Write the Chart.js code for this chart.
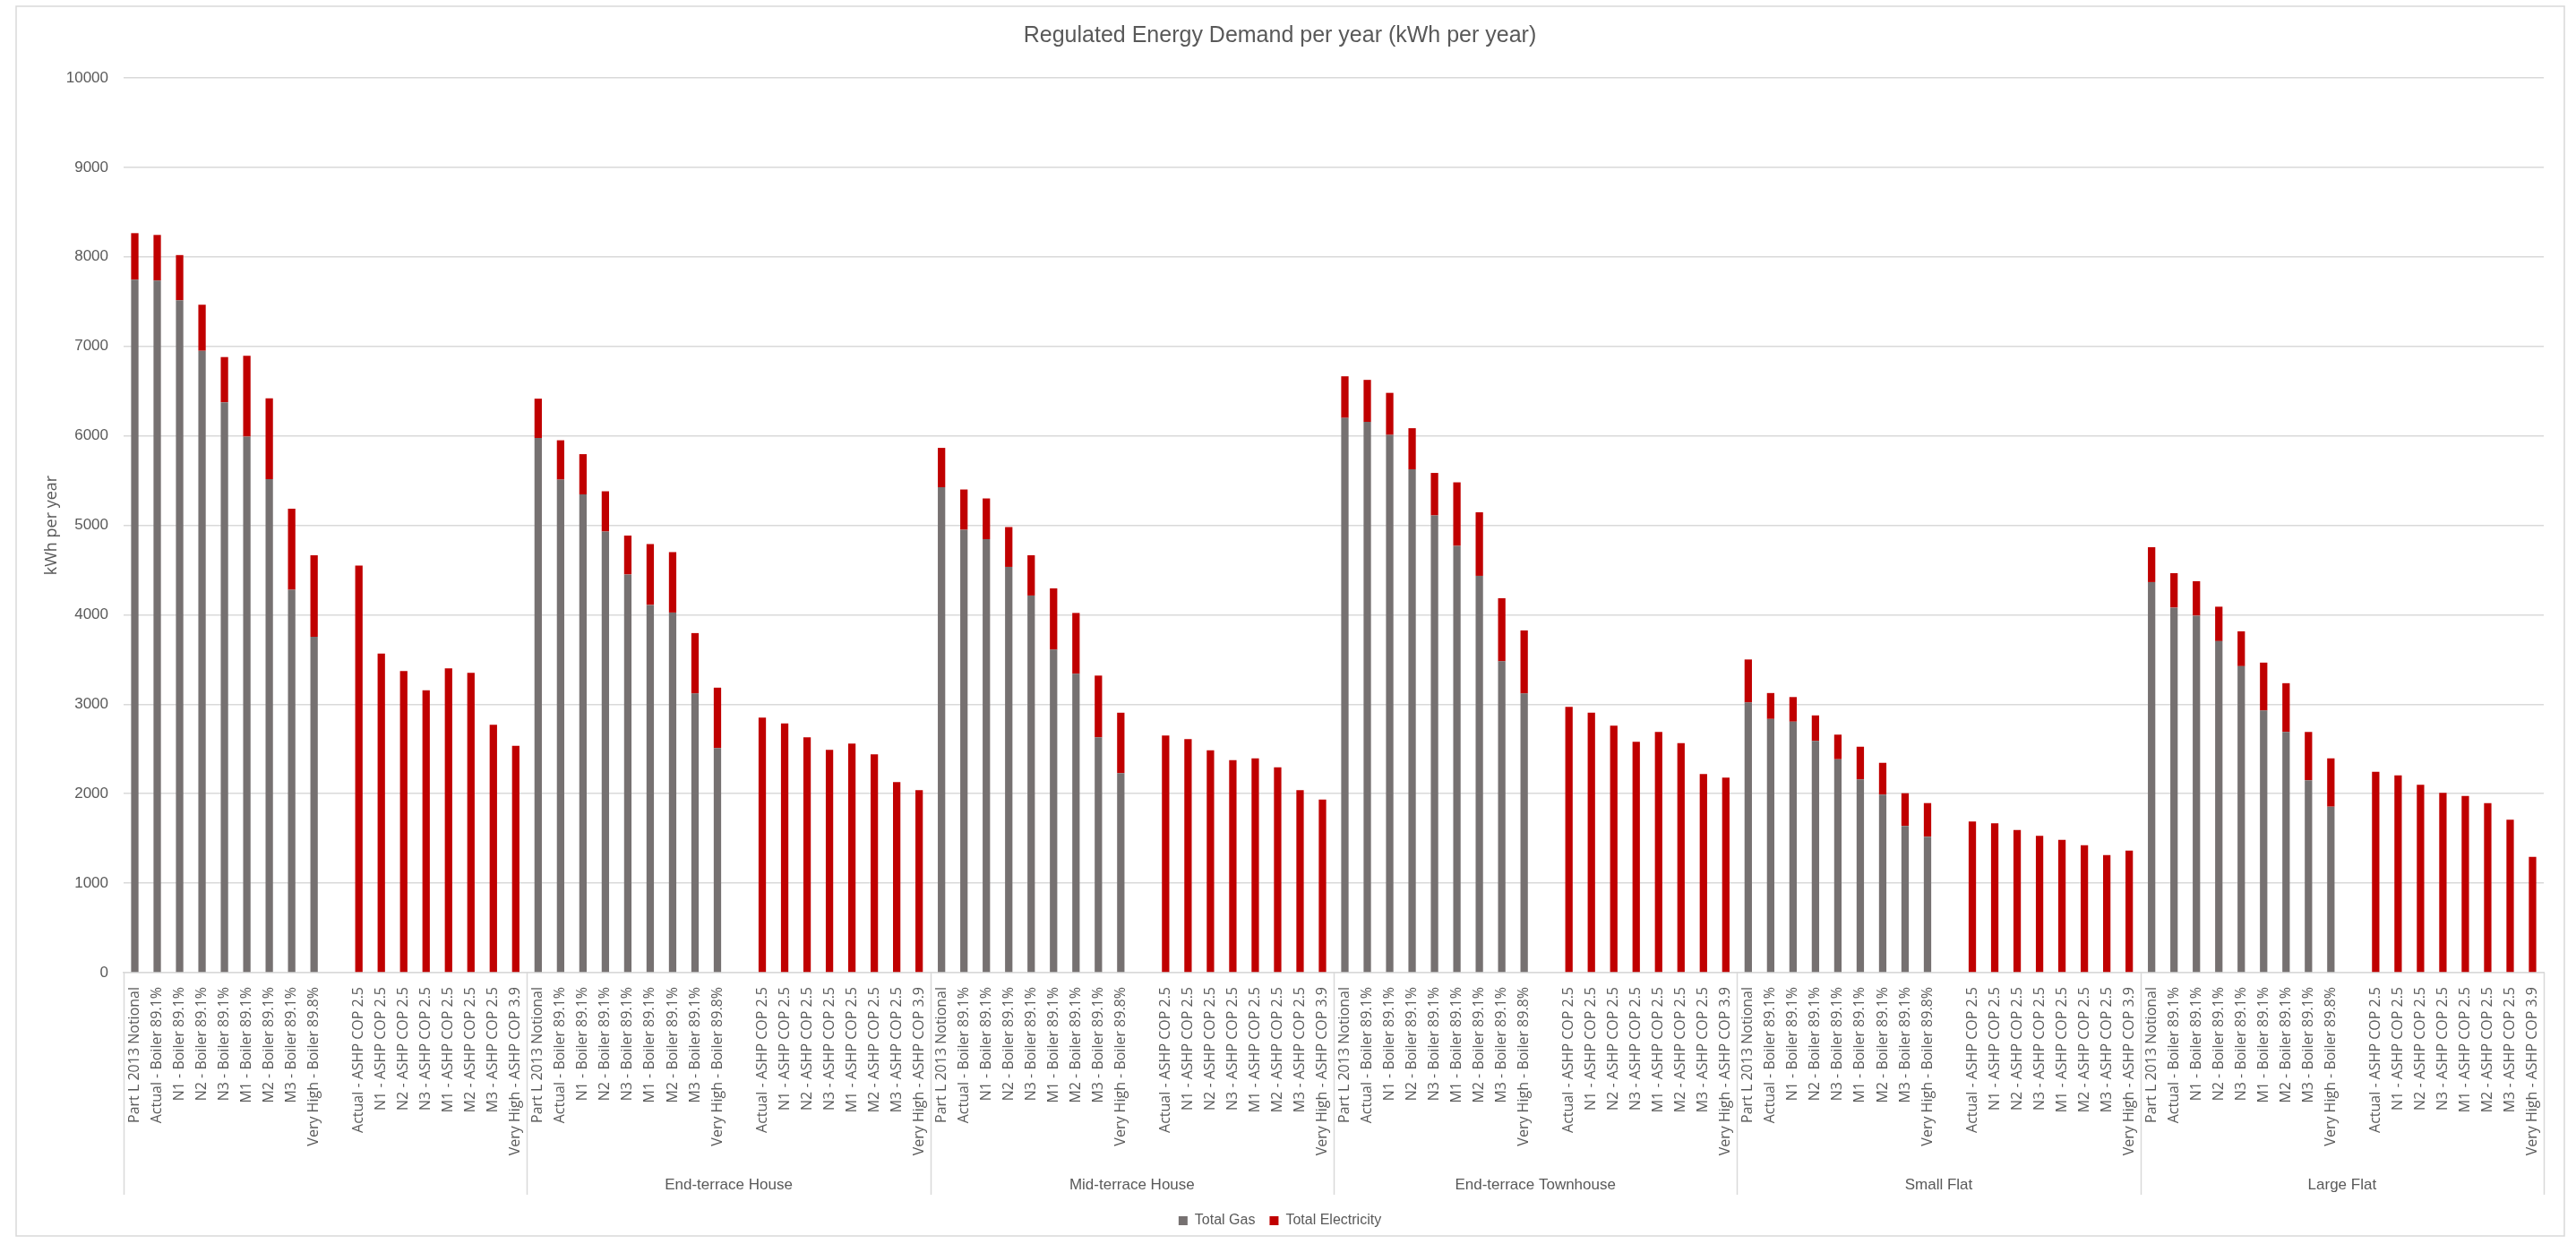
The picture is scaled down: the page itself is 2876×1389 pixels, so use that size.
<!DOCTYPE html>
<html>
<head>
<meta charset="utf-8">
<script src="https://cdn.jsdelivr.net/npm/chart.js@4/dist/chart.umd.min.js"></script>
<style>
  html, body { margin: 0; padding: 0; background: #ffffff; }
  canvas { display: block; }
</style>
</head>
<body>
<canvas id="c" width="2876" height="1389"></canvas>
<script>
// ---- Data ----
const groupNames = ['', 'End-terrace House', 'Mid-terrace House', 'End-terrace Townhouse', 'Small Flat', 'Large Flat'];

const scenarios = [
  'Part L 2013 Notional', 'Actual - Boiler 89.1%', 'N1 - Boiler 89.1%', 'N2 - Boiler 89.1%',
  'N3 - Boiler 89.1%', 'M1 - Boiler 89.1%', 'M2 - Boiler 89.1%', 'M3 - Boiler 89.1%',
  'Very High - Boiler 89.8%', '',
  'Actual - ASHP COP 2.5', 'N1 - ASHP COP 2.5', 'N2 - ASHP COP 2.5', 'N3 - ASHP COP 2.5',
  'M1 - ASHP COP 2.5', 'M2 - ASHP COP 2.5', 'M3 - ASHP COP 2.5', 'Very High - ASHP COP 3.9'
];

// Total Gas (kWh per year) per group; ASHP scenarios have no gas
const gasGroup1 = [7745, 7735, 7515, 6950, 6375, 5990, 5515, 4280, 3755, null, null, null, null, null, null, null, null, null];
const gasGroup2 = [5975, 5510, 5345, 4930, 4450, 4110, 4025, 3120, 2510, null, null, null, null, null, null, null, null, null];
const gasGroup3 = [5425, 4950, 4845, 4535, 4215, 3610, 3340, 2630, 2230, null, null, null, null, null, null, null, null, null];
const gasGroup4 = [6200, 6155, 6010, 5625, 5110, 4770, 4435, 3480, 3120, null, null, null, null, null, null, null, null, null];
const gasGroup5 = [3020, 2835, 2805, 2590, 2385, 2160, 1990, 1640, 1520, null, null, null, null, null, null, null, null, null];
const gasGroup6 = [4365, 4080, 3990, 3705, 3425, 2930, 2690, 2150, 1855, null, null, null, null, null, null, null, null, null];

// Total Electricity (kWh per year) per group
const elecGroup1 = [520, 510, 505, 515, 505, 905, 905, 905, 910, null, 4550, 3565, 3370, 3155, 3400, 3350, 2770, 2535];
const elecGroup2 = [440, 440, 450, 450, 435, 680, 675, 675, 675, null, 2850, 2785, 2630, 2490, 2560, 2440, 2130, 2040];
const elecGroup3 = [440, 450, 455, 445, 450, 685, 680, 690, 675, null, 2650, 2610, 2485, 2375, 2395, 2295, 2040, 1935];
const elecGroup4 = [465, 470, 470, 460, 475, 710, 710, 705, 705, null, 2970, 2905, 2760, 2580, 2690, 2565, 2220, 2180];
const elecGroup5 = [480, 290, 275, 285, 275, 365, 355, 365, 375, null, 1690, 1670, 1595, 1530, 1485, 1425, 1315, 1365];
const elecGroup6 = [390, 385, 385, 385, 390, 535, 545, 540, 540, null, 2245, 2205, 2100, 2010, 1975, 1895, 1710, 1295];

const yTicks = [0, 1000, 2000, 3000, 4000, 5000, 6000, 7000, 8000, 9000, 10000];

// ---- Build flat arrays for Chart.js ----
const gasAll = [gasGroup1, gasGroup2, gasGroup3, gasGroup4, gasGroup5, gasGroup6].flat();
const elecAll = [elecGroup1, elecGroup2, elecGroup3, elecGroup4, elecGroup5, elecGroup6].flat();
const labels = groupNames.map(() => scenarios).flat();
const perGroup = scenarios.length;

const TEXT = '#595959';
const GRID = '#d9d9d9';

const groupPlugin = {
  id: 'groupAxis',
  beforeDraw(chart) {
    const ctx = chart.ctx;
    ctx.save();
    ctx.fillStyle = '#ffffff';
    ctx.fillRect(0, 0, chart.width, chart.height);
    ctx.restore();
  },
  afterDraw(chart) {
    const ctx = chart.ctx;
    const x = chart.scales.x;
    const bottom = chart.chartArea.bottom;
    const step = x.getPixelForValue(1) - x.getPixelForValue(0);
    ctx.save();
    ctx.strokeStyle = GRID;
    ctx.lineWidth = 1.5;
    for (let k = 0; k <= groupNames.length; k++) {
      const bx = Math.round(x.getPixelForValue(k * perGroup) - step / 2) + 0.5;
      ctx.beginPath();
      ctx.moveTo(bx, bottom);
      ctx.lineTo(bx, bottom + 248);
      ctx.stroke();
    }
    ctx.fillStyle = TEXT;
    ctx.font = '17px "Liberation Sans", Arial, sans-serif';
    ctx.textAlign = 'center';
    ctx.textBaseline = 'middle';
    groupNames.forEach((g, k) => {
      const cx = (x.getPixelForValue(k * perGroup) + x.getPixelForValue(k * perGroup + perGroup - 1)) / 2;
      ctx.fillText(g, cx, bottom + 237);
    });
    // outer chart border
    ctx.strokeStyle = GRID;
    ctx.lineWidth = 1.5;
    ctx.strokeRect(18, 7, 2845, 1373);
    ctx.restore();
  }
};

new Chart(document.getElementById('c'), {
  type: 'bar',
  data: {
    labels: labels,
    datasets: [
      { label: 'Total Gas', data: gasAll, backgroundColor: '#767171', borderWidth: 0,
        barPercentage: 0.33, categoryPercentage: 1.0 },
      { label: 'Total Electricity', data: elecAll, backgroundColor: '#c00000', borderWidth: 0,
        barPercentage: 0.33, categoryPercentage: 1.0 }
    ]
  },
  options: {
    responsive: false,
    animation: false,
    devicePixelRatio: 1,
    layout: { padding: { left: 18, right: 36, top: 7, bottom: 8 } },
    plugins: {
      title: {
        display: true,
        text: 'Regulated Energy Demand per year (kWh per year)',
        color: TEXT,
        font: { family: '"Liberation Sans", Arial, sans-serif', size: 25, weight: 'normal' },
        padding: { top: 18, bottom: 32 }
      },
      legend: {
        display: true,
        position: 'bottom',
        labels: {
          color: TEXT,
          font: { family: '"Liberation Sans", Arial, sans-serif', size: 16 },
          boxWidth: 10, boxHeight: 10, padding: 16
        }
      },
      tooltip: { enabled: false }
    },
    scales: {
      x: {
        stacked: true,
        grid: { display: false, drawTicks: false },
        border: { display: true, color: GRID, width: 1.5 },
        ticks: {
          autoSkip: false, minRotation: 90, maxRotation: 90, padding: 16,
          color: TEXT,
          font: { family: '"Open Sans", sans-serif', size: 16 }
        },
        afterFit(s) {
          const lg = s.chart.legend ? s.chart.legend.height : 42;
          s.height = s.chart.height - 8 - lg - 1086;
        }
      },
      y: {
        stacked: true,
        min: 0, max: 10000,
        afterBuildTicks(s) { s.ticks = yTicks.map(v => ({ value: v })); },
        grid: { color: GRID, lineWidth: 1.5, drawTicks: false },
        border: { display: false },
        ticks: {
          padding: 17, color: TEXT,
          font: { family: '"Liberation Sans", Arial, sans-serif', size: 17 },
          callback: (v) => String(v)
        },
        title: {
          display: true, text: 'kWh per year', color: TEXT,
          font: { family: '"Open Sans", sans-serif', size: 18 },
          padding: { top: 29, bottom: 0 }
        },
        afterFit(s) { s.width = 120; }
      }
    }
  },
  plugins: [groupPlugin]
});
</script>
</body>
</html>
